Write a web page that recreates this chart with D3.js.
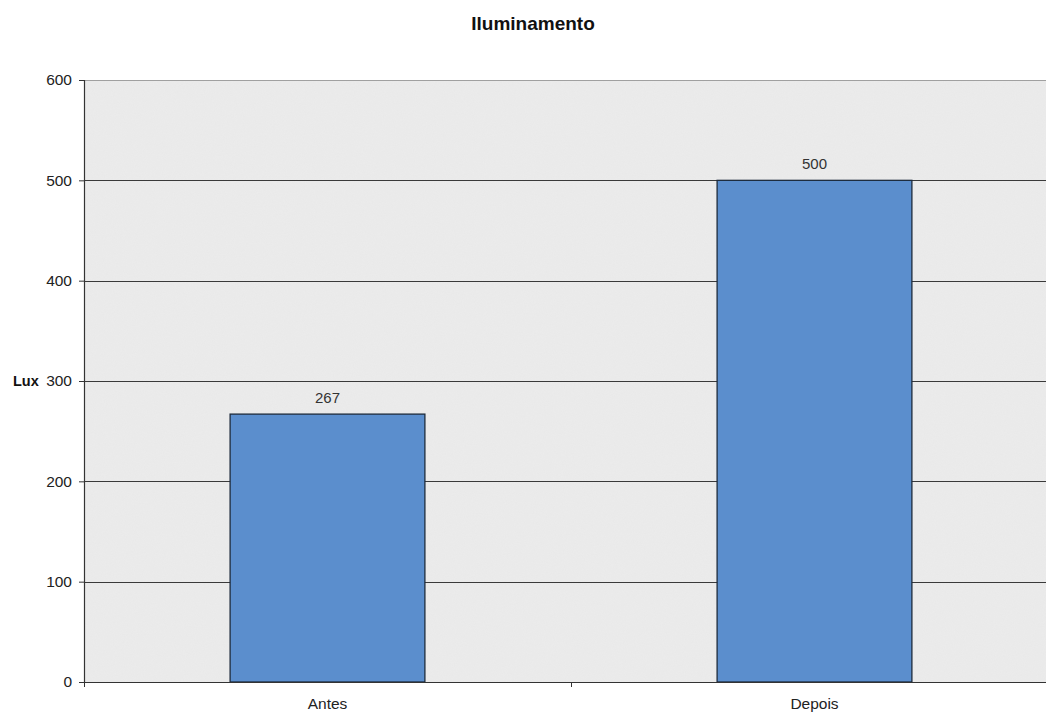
<!DOCTYPE html>
<html>
<head>
<meta charset="utf-8">
<script src="https://cdn.jsdelivr.net/npm/d3@7"></script>
<style>
  html, body { margin: 0; padding: 0; background: #fff; }
  svg { display: block; font-family: "Liberation Sans", Arial, sans-serif; }
</style>
</head>
<body>
<svg id="chart" width="1046" height="712"></svg>
<script>
const title = "Iluminamento";
const yAxisTitle = "Lux";
const categories = ["Antes", "Depois"];
const values = [267, 500];
const yTicks = [0, 100, 200, 300, 400, 500, 600];

const svg = d3.select("#chart");
const plot = { left: 84, top: 80, right: 1058, bottom: 682 };

const y = d3.scaleLinear().domain([0, 600]).range([plot.bottom, plot.top]);
const x = d3.scaleBand().domain(categories).range([plot.left, plot.right])
  .paddingInner(0.6).paddingOuter(0.3);

// noise texture filter
const defs = svg.append("defs");
const f = defs.append("filter").attr("id", "noise").attr("x", 0).attr("y", 0).attr("width", "100%").attr("height", "100%");
f.append("feTurbulence").attr("type", "fractalNoise").attr("baseFrequency", 0.9).attr("numOctaves", 2).attr("seed", 3).attr("result", "t");
f.append("feColorMatrix").attr("in", "t").attr("type", "matrix")
  .attr("values", "0 0 0 0 0.6  0 0 0 0 0.6  0 0 0 0 0.6  0 0 0 0.12 0").attr("result", "n");
f.append("feComposite").attr("in", "n").attr("in2", "SourceGraphic").attr("operator", "in").attr("result", "nn");
f.append("feMerge").selectAll("feMergeNode").data(["SourceGraphic", "nn"]).enter()
  .append("feMergeNode").attr("in", d => d);

// plot background
svg.append("rect")
  .attr("x", plot.left).attr("y", plot.top)
  .attr("width", plot.right - plot.left).attr("height", plot.bottom - plot.top)
  .attr("fill", "#ececec").attr("filter", "url(#noise)");

// top border of plot area
svg.append("line")
  .attr("x1", plot.left).attr("x2", plot.right)
  .attr("y1", plot.top + 0.5).attr("y2", plot.top + 0.5)
  .attr("stroke", "#a0a0a0").attr("stroke-width", 1);

// gridlines
svg.append("g").selectAll("line")
  .data(yTicks.filter(d => d > 0 && d < 600)).enter().append("line")
  .attr("x1", plot.left).attr("x2", plot.right)
  .attr("y1", d => Math.round(y(d)) + 0.5).attr("y2", d => Math.round(y(d)) + 0.5)
  .attr("stroke", "#3a3a3a").attr("stroke-width", 1);

// bars
svg.append("g").selectAll("rect")
  .data(categories).enter().append("rect")
  .attr("x", d => x(d))
  .attr("y", (d, i) => y(values[i]))
  .attr("width", x.bandwidth())
  .attr("height", (d, i) => y(0) - y(values[i]))
  .attr("fill", "#5b8ecd")
  .attr("stroke", "#1d2b3c").attr("stroke-width", 1.3);

// data labels
svg.append("g").selectAll("text")
  .data(categories).enter().append("text")
  .attr("x", d => x(d) + x.bandwidth() / 2)
  .attr("y", (d, i) => y(values[i]) - 11.5)
  .attr("text-anchor", "middle")
  .attr("font-size", 15).attr("fill", "#333")
  .text((d, i) => values[i]);

// y axis
const yAxis = d3.axisLeft(y).tickValues(yTicks).tickSize(5).tickPadding(7).tickFormat(d3.format("d"));
const gy = svg.append("g").attr("transform", `translate(${plot.left},0)`).call(yAxis);
gy.select(".domain").attr("stroke", "#333").attr("stroke-width", 1.2);
gy.selectAll(".tick line").attr("stroke", "#333");
gy.selectAll(".tick text").attr("font-size", 15.5).attr("fill", "#222")
  .attr("font-family", "Liberation Sans, Arial, sans-serif");

// x axis: line + ticks at category boundaries
const xAxisG = svg.append("g");
xAxisG.append("line")
  .attr("x1", plot.left).attr("x2", plot.right)
  .attr("y1", plot.bottom + 0.5).attr("y2", plot.bottom + 0.5)
  .attr("stroke", "#333").attr("stroke-width", 1.2);
const tickEdges = d3.range(categories.length + 1).map(i => plot.left + i * x.step());
xAxisG.selectAll("line.t").data(tickEdges).enter().append("line")
  .attr("class", "t")
  .attr("x1", d => Math.round(d) + 0.5).attr("x2", d => Math.round(d) + 0.5)
  .attr("y1", plot.bottom).attr("y2", plot.bottom + 5)
  .attr("stroke", "#333");
xAxisG.selectAll("text").data(categories).enter().append("text")
  .attr("x", d => x(d) + x.bandwidth() / 2)
  .attr("y", plot.bottom + 27)
  .attr("text-anchor", "middle")
  .attr("font-size", 15.5).attr("fill", "#222")
  .text(d => d);

// y axis title
svg.append("text")
  .attr("x", 13).attr("y", y(300) + 5)
  .attr("font-size", 14.5).attr("font-weight", "bold").attr("fill", "#111")
  .text(yAxisTitle);

// title
svg.append("text")
  .attr("x", 533).attr("y", 30)
  .attr("text-anchor", "middle")
  .attr("font-size", 19).attr("font-weight", "bold").attr("fill", "#111")
  .text(title);
</script>
</body>
</html>
